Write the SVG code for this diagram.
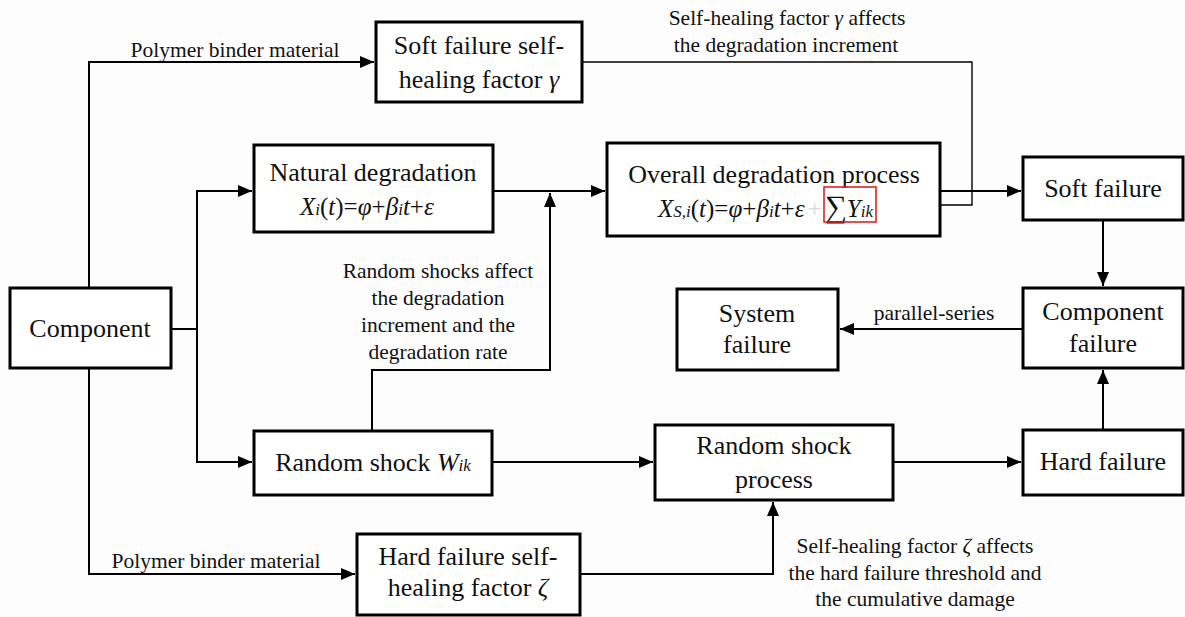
<svg xmlns="http://www.w3.org/2000/svg" width="1185" height="617" viewBox="0 0 1185 617" font-family="Liberation Serif, serif">
<style>
.box{fill:#fff;stroke:#000;stroke-width:3}
.c{fill:none;stroke:#000;stroke-width:2}
.thin{fill:none;stroke:#000;stroke-width:1.4}
text{fill:#111}
.t{font-size:26px;text-anchor:middle}
.l{font-size:21.5px;text-anchor:middle}
.f{font-size:25px}
.i{font-style:italic}
.s{font-style:italic;font-size:17px}
</style>
<defs>
<marker id="ah" viewBox="0 0 14 12" refX="14" refY="6" markerWidth="14" markerHeight="12" markerUnits="userSpaceOnUse" orient="auto">
<path d="M0,0 L14,6 L0,12 Z" fill="#000"/>
</marker>
</defs>
<rect width="1185" height="617" fill="#fdfdfd"/>

<g id="connectors" font-family="Liberation Serif, serif">
<path class="c" d="M89,288 V62 H374" marker-end="url(#ah)"/>
<path class="c" d="M89,368 V574 H355" marker-end="url(#ah)"/>
<path class="c" d="M171,329 H197"/>
<path class="c" d="M197,329 V191 H252" marker-end="url(#ah)"/>
<path class="c" d="M197,329 V462 H252" marker-end="url(#ah)"/>
<path class="c" d="M493,191 H605" marker-end="url(#ah)"/>
<path class="c" d="M372,431 V370 H550 V193" marker-end="url(#ah)"/>
<path class="c" d="M492,462 H653" marker-end="url(#ah)"/>
<path class="c" d="M580,574 H773 V502" marker-end="url(#ah)"/>
<path class="c" d="M893,462 H1021" marker-end="url(#ah)"/>
<path class="c" d="M940,191 H1021" marker-end="url(#ah)"/>
<path class="c" d="M1103,220 V286" marker-end="url(#ah)"/>
<path class="c" d="M1103,430 V370" marker-end="url(#ah)"/>
<path class="c" d="M1023,329 H840" marker-end="url(#ah)"/>
<path class="thin" d="M582,62 H972 V205 H887" marker-end="url(#ah)"/>
<text class="l" x="235" y="57">Polymer binder material</text>
<text class="l" x="216" y="568">Polymer binder material</text>
<text class="l" x="787" y="25">Self-healing factor <tspan class="i">γ</tspan> affects</text>
<text class="l" x="786" y="52">the degradation increment</text>
<text class="l" x="438" y="278">Random shocks affect</text>
<text class="l" x="438" y="305">the degradation</text>
<text class="l" x="438" y="332">increment and the</text>
<text class="l" x="438" y="359">degradation rate</text>
<text class="l" x="915" y="553">Self-healing factor <tspan class="i">ζ</tspan> affects</text>
<text class="l" x="915" y="580">the hard failure threshold and</text>
<text class="l" x="915" y="606">the cumulative damage</text>
<text class="l" x="934" y="320">parallel-series</text>
</g>

<g id="component" font-family="Liberation Serif, serif">
<rect class="box" x="10" y="288" width="161" height="80"/>
<text class="t" x="90" y="337">Component</text>
</g>

<g id="soft-self-healing" font-family="Liberation Serif, serif">
<rect class="box" x="376" y="22" width="206" height="80"/>
<text class="t" x="479" y="54">Soft failure self-</text>
<text class="t" x="479" y="88">healing factor <tspan class="i">γ</tspan></text>
</g>

<g id="natural-degradation" font-family="Liberation Serif, serif">
<rect class="box" x="254" y="145" width="239" height="87"/>
<text class="t" x="373" y="181">Natural degradation</text>
<text class="f" x="300" y="215"><tspan class="i">X</tspan><tspan class="s">i</tspan>(<tspan class="i">t</tspan>)=<tspan class="i">φ</tspan>+<tspan class="i">β</tspan><tspan class="s">i</tspan><tspan class="i">t</tspan>+<tspan class="i">ε</tspan></text>
</g>

<g id="overall-degradation" font-family="Liberation Serif, serif">
<rect class="box" x="607" y="143" width="333" height="93"/>
<text class="t" x="774" y="183">Overall degradation process</text>
<text class="f" x="658" y="217"><tspan class="i">X</tspan><tspan class="s">S,i</tspan>(<tspan class="i">t</tspan>)=<tspan class="i">φ</tspan>+<tspan class="i">β</tspan><tspan class="s">i</tspan><tspan class="i">t</tspan>+<tspan class="i">ε</tspan><tspan fill="#d8d8d8" dx="3">+</tspan><tspan font-size="31" dx="3">∑</tspan><tspan class="i">Y</tspan><tspan class="s">ik</tspan></text>
<rect x="824" y="187" width="52" height="35" fill="none" stroke="#e02424" stroke-width="1.6"/>
</g>

<g id="soft-failure" font-family="Liberation Serif, serif">
<rect class="box" x="1023" y="157" width="160" height="63"/>
<text class="t" x="1103" y="197">Soft failure</text>
</g>

<g id="component-failure" font-family="Liberation Serif, serif">
<rect class="box" x="1023" y="288" width="160" height="80"/>
<text class="t" x="1103" y="320">Component</text>
<text class="t" x="1103" y="352">failure</text>
</g>

<g id="system-failure" font-family="Liberation Serif, serif">
<rect class="box" x="677" y="289" width="161" height="81"/>
<text class="t" x="757" y="322">System</text>
<text class="t" x="757" y="353">failure</text>
</g>

<g id="random-shock" font-family="Liberation Serif, serif">
<rect class="box" x="254" y="431" width="238" height="64"/>
<text class="t" x="373" y="471">Random shock <tspan class="i">W</tspan><tspan class="s">ik</tspan></text>
</g>

<g id="random-shock-process" font-family="Liberation Serif, serif">
<rect class="box" x="655" y="425" width="238" height="75"/>
<text class="t" x="774" y="454">Random shock</text>
<text class="t" x="774" y="488">process</text>
</g>

<g id="hard-failure" font-family="Liberation Serif, serif">
<rect class="box" x="1023" y="430" width="160" height="65"/>
<text class="t" x="1103" y="470">Hard failure</text>
</g>

<g id="hard-self-healing" font-family="Liberation Serif, serif">
<rect class="box" x="357" y="534" width="223" height="81"/>
<text class="t" x="468" y="565">Hard failure self-</text>
<text class="t" x="468" y="596">healing factor <tspan class="i">ζ</tspan></text>
</g>
</svg>
